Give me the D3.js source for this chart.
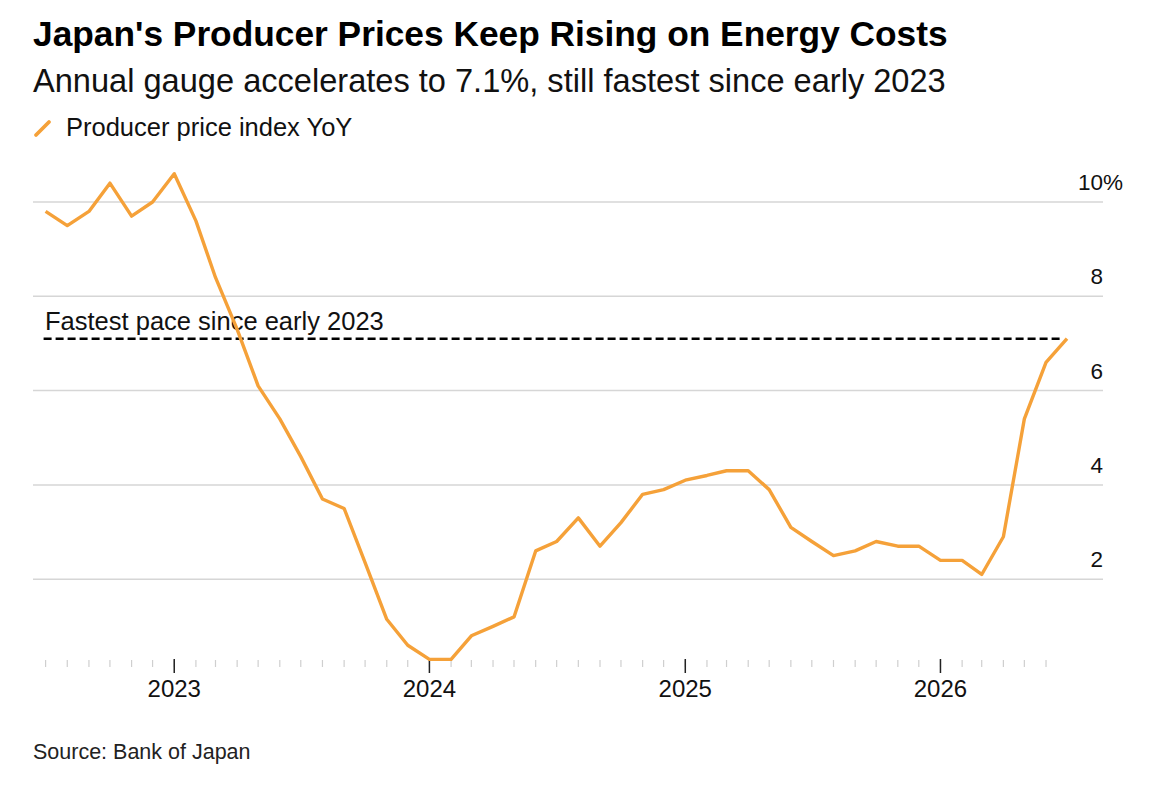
<!DOCTYPE html>
<html lang="en">
<head>
    <meta charset="UTF-8">
    <title>Japan PPI</title>
    <script src="https://cdn.jsdelivr.net/npm/d3@7"></script>
    <style>
        body { margin: 0; background: #fff; }
        svg { display: block; font-family: "Liberation Sans", Arial, sans-serif; }
    </style>
</head>
<body>
    <div id="chart"></div>
    <script>

        // monthly values, Jul 2022 .. Jul 2026
        var months = ["2022-07","2022-08","2022-09","2022-10","2022-11","2022-12",
                      "2023-01","2023-02","2023-03","2023-04","2023-05","2023-06",
                      "2023-07","2023-08","2023-09","2023-10","2023-11","2023-12",
                      "2024-01","2024-02","2024-03","2024-04","2024-05","2024-06",
                      "2024-07","2024-08","2024-09","2024-10","2024-11","2024-12",
                      "2025-01","2025-02","2025-03","2025-04","2025-05","2025-06",
                      "2025-07","2025-08","2025-09","2025-10","2025-11","2025-12",
                      "2026-01","2026-02","2026-03","2026-04","2026-05","2026-06",
                      "2026-07"];
        var ppi = [9.8, 9.5, 9.8, 10.4, 9.7, 10.0,
                   10.6, 9.6, 8.4, 7.3, 6.1, 5.4,
                   4.6, 3.7, 3.5, 2.35, 1.15, 0.6,
                   0.3, 0.3, 0.8, 1.0, 1.2, 2.6,
                   2.8, 3.3, 2.7, 3.2, 3.8, 3.9,
                   4.1, 4.2, 4.3, 4.3, 3.9, 3.1,
                   2.8, 2.5, 2.6, 2.8, 2.7, 2.7,
                   2.4, 2.4, 2.1, 2.9, 5.4, 6.6,
                   7.1];
        var yTicks = [2, 4, 6, 8, 10];
        var yearTicks = ["2023", "2024", "2025", "2026"];
        var refLevel = 7.1;

        var W = 1152, H = 795;
        var orange = "#f5a139";

        var parse = d3.timeParse("%Y-%m");
        var data = months.map(function(m, i) { return {date: parse(m), value: ppi[i]}; });

        var svg = d3.select("#chart").append("svg")
            .attr("width", W)
            .attr("height", H);

        var x = d3.scaleTime()
            .domain(d3.extent(data, function(d) { return d.date; }))
            .range([45.6, 1067]);

        var y = d3.scaleLinear()
            .domain([0, 10])
            .range([673.5, 202]);

        // title block
        svg.append("text")
            .attr("x", 33).attr("y", 46)
            .attr("font-size", "35.3px")
            .attr("font-weight", "bold")
            .attr("fill", "#000")
            .text("Japan's Producer Prices Keep Rising on Energy Costs");

        svg.append("text")
            .attr("x", 33).attr("y", 92)
            .attr("font-size", "32.6px")
            .attr("fill", "#111")
            .text("Annual gauge accelerates to 7.1%, still fastest since early 2023");

        svg.append("line")
            .attr("x1", 36).attr("y1", 135)
            .attr("x2", 49).attr("y2", 122)
            .attr("stroke", orange)
            .attr("stroke-width", 3.8)
            .attr("stroke-linecap", "round");

        svg.append("text")
            .attr("x", 66).attr("y", 136)
            .attr("font-size", "25.5px")
            .attr("fill", "#111")
            .text("Producer price index YoY");

        // gridlines + right labels
        svg.append("g").selectAll("line")
            .data(yTicks)
            .join("line")
            .attr("x1", 33).attr("x2", 1103)
            .attr("y1", function(d) { return y(d); })
            .attr("y2", function(d) { return y(d); })
            .attr("stroke", "#d6d6d6")
            .attr("stroke-width", 1.5);

        svg.append("g").selectAll("text")
            .data(yTicks)
            .join("text")
            .attr("x", 1103)
            .attr("y", function(d) { return y(d) - 12; })
            .attr("text-anchor", "end")
            .attr("font-size", "22.5px")
            .attr("fill", "#111")
            .text(function(d) { return d; });

        svg.append("text")
            .attr("x", 1103)
            .attr("y", y(d3.max(yTicks)) - 12)
            .attr("font-size", "22.5px")
            .attr("fill", "#111")
            .text("%");

        // x axis: monthly minor ticks, yearly major ticks
        var minor = d3.timeMonth.range(x.domain()[0], x.domain()[1]);
        svg.append("g").selectAll("line")
            .data(minor)
            .join("line")
            .attr("x1", function(d) { return x(d); })
            .attr("x2", function(d) { return x(d); })
            .attr("y1", 660).attr("y2", 667)
            .attr("stroke", "#cfcfcf")
            .attr("stroke-width", 1.2);

        var years = yearTicks.map(function(t) { return d3.timeParse("%Y")(t); });
        svg.append("g").selectAll("line")
            .data(years)
            .join("line")
            .attr("x1", function(d) { return x(d); })
            .attr("x2", function(d) { return x(d); })
            .attr("y1", 659).attr("y2", 673)
            .attr("stroke", "#222")
            .attr("stroke-width", 1.5);

        svg.append("g").selectAll("text")
            .data(years)
            .join("text")
            .attr("x", function(d) { return x(d); })
            .attr("y", 697)
            .attr("text-anchor", "middle")
            .attr("font-size", "24px")
            .attr("fill", "#111")
            .text(function(d) { return d3.timeFormat("%Y")(d); });

        // reference line
        svg.append("line")
            .attr("x1", x.range()[0] - 2).attr("x2", x.range()[1] - 5)
            .attr("y1", y(refLevel)).attr("y2", y(refLevel))
            .attr("stroke", "#000")
            .attr("stroke-width", 2.6)
            .attr("stroke-dasharray", "8,4");

        svg.append("text")
            .attr("x", 45).attr("y", y(refLevel) - 9)
            .attr("font-size", "25.5px")
            .attr("fill", "#111")
            .text("Fastest pace since early 2023");

        // the series
        var line = d3.line()
            .x(function(d) { return x(d.date); })
            .y(function(d) { return y(d.value); });

        svg.append("path")
            .datum(data)
            .attr("d", line)
            .attr("fill", "none")
            .attr("stroke", orange)
            .attr("stroke-width", 3.4)
            .attr("stroke-linejoin", "round");

        svg.append("text")
            .attr("x", 33).attr("y", 759)
            .attr("font-size", "21.5px")
            .attr("fill", "#222")
            .text("Source: Bank of Japan");
    </script>
</body>
</html>
